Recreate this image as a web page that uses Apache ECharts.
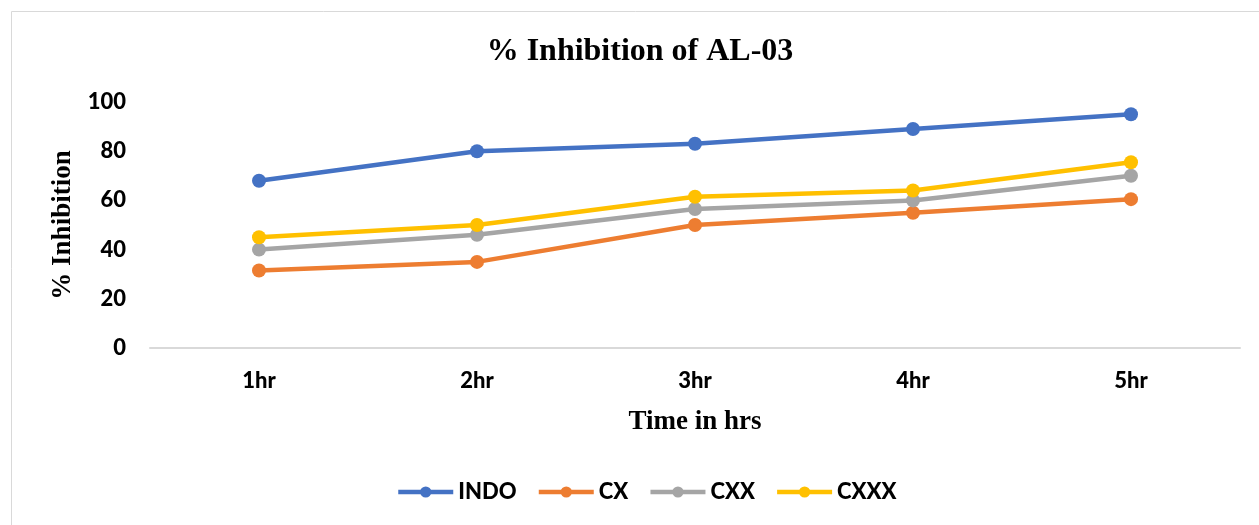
<!DOCTYPE html>
<html><head><meta charset="utf-8">
<script src="https://cdn.jsdelivr.net/npm/echarts@6/dist/echarts.min.js"></script>
<style>html,body{margin:0;padding:0;background:#fff;overflow:hidden}#c{width:1259px;height:525px}</style>
</head><body><div id="c"></div>
<script>
const categories = ['1hr', '2hr', '3hr', '4hr', '5hr'];
const indo = [68, 80, 83, 89, 95];
const cx = [31.5, 35, 50, 55, 60.5];
const cxx = [40, 46, 56.5, 60, 70];
const cxxx = [45, 50, 61.5, 64, 75.5];
const yTicks = [0, 20, 40, 60, 80, 100];

const sans = 'Lato, "DejaVu Sans", sans-serif';
const serif = '"Liberation Serif", "Times New Roman", serif';
function mk(name, data, color) {
  return {name, type: 'line', data, color, symbol: 'circle', symbolSize: 14,
    lineStyle: {width: 4.5, color}, itemStyle: {color}};
}
const chart = echarts.init(document.getElementById('c'));
chart.setOption({
  animation: false,
  graphic: [{type: 'rect', shape: {x: 11.5, y: 11.5, width: 1260, height: 520},
    style: {fill: 'none', stroke: '#d9d9d9', lineWidth: 1}, silent: true}],
  title: {text: '% Inhibition of AL-03', left: 635, textAlign: 'center', top: 31,
    textStyle: {fontFamily: serif, fontWeight: 'bold', fontSize: 32, color: '#000'}},
  legend: {top: 476, left: 391, itemWidth: 55, itemHeight: 14, itemGap: 20,
    lineStyle: {width: 4.5},
    textStyle: {fontFamily: sans, fontWeight: 900, fontSize: 22, color: '#000'},
    data: ['INDO', 'CX', 'CXX', 'CXXX']},
  grid: {left: 150, right: 19, top: 102, bottom: 177},
  xAxis: {type: 'category', data: categories, boundaryGap: true,
    axisLine: {lineStyle: {color: '#d9d9d9', width: 2}}, axisTick: {show: false},
    axisLabel: {fontFamily: sans, fontWeight: 900, fontSize: 22, color: '#000', margin: 22},
    name: 'Time in hrs', nameLocation: 'middle', nameGap: 61,
    nameTextStyle: {fontFamily: serif, fontWeight: 'bold', fontSize: 27, color: '#000'}},
  yAxis: {type: 'value', min: yTicks[0], max: yTicks[yTicks.length - 1], interval: 20,
    splitLine: {show: false}, axisLine: {show: false}, axisTick: {show: false},
    axisLabel: {fontFamily: sans, fontWeight: 900, fontSize: 22, color: '#000', margin: 24},
    name: '% Inhibition', nameLocation: 'middle', nameGap: 71,
    nameTextStyle: {fontFamily: serif, fontWeight: 'bold', fontSize: 27, color: '#000'}},
  series: [mk('INDO', indo, '#4472C4'), mk('CX', cx, '#ED7D31'), mk('CXX', cxx, '#A5A5A5'), mk('CXXX', cxxx, '#FFC000')]
});
</script></body></html>
